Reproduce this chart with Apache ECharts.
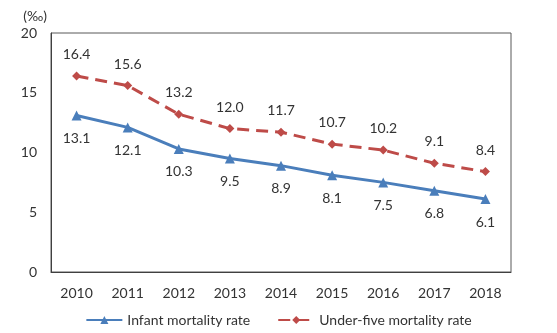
<!DOCTYPE html>
<html><head><meta charset="utf-8">
<script src="https://cdn.jsdelivr.net/npm/echarts@6/dist/echarts.min.js"></script>
<style>html,body{margin:0;padding:0;background:#fff}#c{width:557px;height:333px}</style>
</head><body><div id="c"></div>
<script>
var years = ['2010','2011','2012','2013','2014','2015','2016','2017','2018'];
var infant = [13.1,12.1,10.3,9.5,8.9,8.1,7.5,6.8,6.1];
var underFive = [16.4,15.6,13.2,12.0,11.7,10.7,10.2,9.1,8.4];
var yTicks = [0,5,10,15,20];
var font = 'Lato, Open Sans, sans-serif';
var txt = '#333333';
var chart = echarts.init(document.getElementById('c'));
chart.setOption({
  animation:false,
  textStyle:{fontFamily:font},
  grid:{left:51,right:46,top:33,bottom:61,show:true,borderColor:'#595959',borderWidth:1},
  legend:{top:308,left:'center',itemWidth:36,itemHeight:10,itemGap:27,
    textStyle:{fontSize:14,color:txt,fontFamily:font},
    data:['Infant mortality rate','Under-five mortality rate']},
  xAxis:{type:'category',data:years,boundaryGap:true,
    axisLine:{lineStyle:{color:'#404040'}},axisTick:{show:false},
    axisLabel:{fontSize:14,color:txt,margin:14,fontFamily:font}},
  yAxis:{type:'value',min:yTicks[0],max:yTicks[yTicks.length-1],interval:5,
    name:'(‰)',nameLocation:'end',nameGap:10,
    nameTextStyle:{fontSize:14,color:txt,align:'right',padding:[0,4,0,0],fontFamily:font},
    axisLine:{show:true,lineStyle:{color:'#404040'}},axisTick:{show:false},splitLine:{show:false},
    axisLabel:{fontSize:14,color:txt,margin:14,fontFamily:font}},
  series:[
    {name:'Infant mortality rate',type:'line',data:infant,
     symbol:'triangle',symbolSize:10,
     itemStyle:{color:'#4A7EBB'},lineStyle:{color:'#4A7EBB',width:3},
     label:{show:true,position:'bottom',distance:11,fontSize:14,color:txt,fontFamily:font,
       formatter:function(p){return p.value.toFixed(1);}}},
    {name:'Under-five mortality rate',type:'line',data:underFive,
     symbol:'diamond',symbolSize:9,
     itemStyle:{color:'#BE4B48'},lineStyle:{color:'#BE4B48',width:3,type:[12,7]},
     label:{show:true,position:'top',distance:10,fontSize:14,color:txt,fontFamily:font,
       formatter:function(p){return p.value.toFixed(1);}}}
  ]
});
</script></body></html>
